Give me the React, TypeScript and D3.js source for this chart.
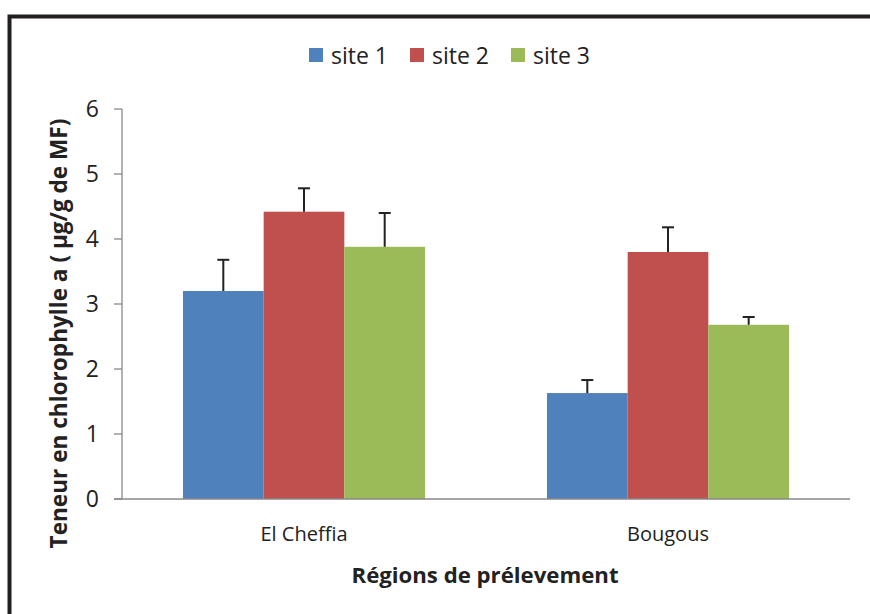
import React from "react";
import * as d3 from "d3";

const categories = ["El Cheffia", "Bougous"];
const seriesNames = ["site 1", "site 2", "site 3"];
const seriesColors = ["#4F81BD", "#C0504D", "#9BBB59"];
const values = [
  [3.2, 1.63],
  [4.42, 3.8],
  [3.88, 2.68],
];
const errors = [
  [0.48, 0.2],
  [0.36, 0.38],
  [0.52, 0.12],
];
const yTicks = [0, 1, 2, 3, 4, 5, 6];

const FONT = "'Open Sans', sans-serif";

export default function App() {
  const W = 870, H = 614;
  const left = 122, right = 850, top = 109, bottom = 499;
  const y = d3.scaleLinear().domain([0, 6]).range([bottom, top]);
  const x0 = d3.scaleBand<string>().domain(categories).range([left, right]).paddingInner(0.335).paddingOuter(0.1675);
  const x1 = d3.scaleBand<string>().domain(seriesNames).range([0, x0.bandwidth()]);

  return (
    <svg width={W} height={H} style={{ position: "absolute", left: 0, top: 0, background: "#fff" }}>
      <rect x={0} y={0} width={W} height={H} fill="#fff" />
      {/* frame */}
      <rect x={9.5} y={16.5} width={880} height={700} fill="none" stroke="#231f20" strokeWidth={4} />
      {/* legend */}
      {seriesNames.map((s, i) => {
        const lx = 309 + i * 101;
        return (
          <g key={s}>
            <rect x={lx} y={48} width={14} height={14} fill={seriesColors[i]} />
            <text x={lx + 22} y={63.5} fontFamily={FONT} fontSize={23} fill="#222">{s}</text>
          </g>
        );
      })}
      {/* bars */}
      {seriesNames.map((s, i) =>
        categories.map((c, j) => {
          const bx = (x0(c) ?? 0) + (x1(s) ?? 0);
          const bw = x1.bandwidth();
          const v = values[i][j];
          const e = errors[i][j];
          const cx = bx + bw / 2;
          return (
            <g key={s + c}>
              <rect x={bx} y={y(v)} width={bw} height={bottom - y(v)} fill={seriesColors[i]} />
              <line x1={cx} x2={cx} y1={y(v)} y2={y(v + e)} stroke="#222" strokeWidth={2} />
              <line x1={cx - 6} x2={cx + 6} y1={y(v + e)} y2={y(v + e)} stroke="#222" strokeWidth={2} />
            </g>
          );
        })
      )}
      {/* y axis */}
      <line x1={left} x2={left} y1={top} y2={bottom} stroke="#888" strokeWidth={1.3} />
      {yTicks.map((t) => (
        <g key={t}>
          <line x1={left - 8} x2={left} y1={y(t)} y2={y(t)} stroke="#888" strokeWidth={1.3} />
          <text x={left - 23} y={y(t) + 8} textAnchor="end" fontFamily={FONT} fontSize={23} fill="#222">{t}</text>
        </g>
      ))}
      {/* x axis */}
      <line x1={left - 8} x2={right} y1={bottom} y2={bottom} stroke="#888" strokeWidth={1.3} />
      {categories.map((c) => (
        <text key={c} x={(x0(c) ?? 0) + x0.bandwidth() / 2} y={541} textAnchor="middle" fontFamily={FONT} fontSize={20} fill="#222">{c}</text>
      ))}
      <text x={485} y={583} textAnchor="middle" fontFamily={FONT} fontSize={22.2} fontWeight="bold" fill="#222">Régions de prélevement</text>
      <text transform={`translate(67,333.5) rotate(-90)`} textAnchor="middle" fontFamily={FONT} fontSize={22.6} fontWeight="bold" fill="#222">Teneur en chlorophylle a ( µg/g de MF)</text>
    </svg>
  );
}
